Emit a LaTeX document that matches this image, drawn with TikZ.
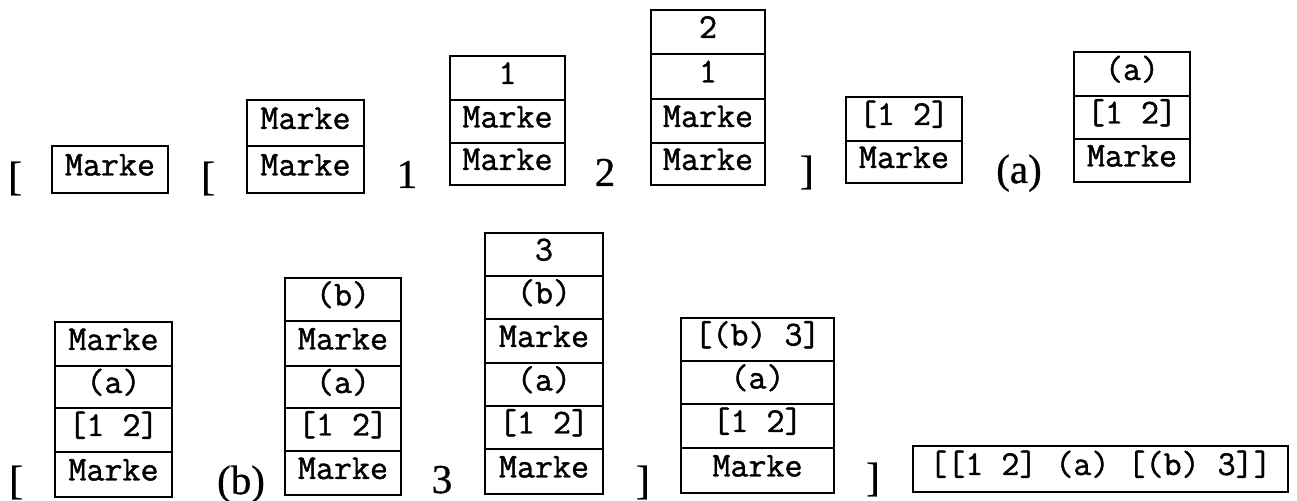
\documentclass[tikz,border=0pt]{standalone}
\usepackage{fontspec}
\newfontfamily\seriff{Liberation Serif}[FakeBold=0.8]
\newfontfamily\monof{Latin Modern Mono}[FakeBold=1.2]
\tikzset{
  cellbox/.style={draw, line width=1.1pt, inner sep=0pt, align=center,
    font=\monof\fontsize{17.5}{20}\selectfont, text height=0.6em, text depth=0pt},
  lbl/.style={inner sep=0pt, anchor=base, font=\seriff\fontsize{20.5}{24}\selectfont}
}
\newcommand\mkcell[5]{\node[cellbox, minimum width=#3, minimum height=#4] (#1) at (#2) {#5};}
\begin{document}
\begin{tikzpicture}[x=0.5pt, y=-0.5pt]
\useasboundingbox (0,0) rectangle (1297,501);
% ---- top row ----
\node[lbl] (t1) at (15,190) {[};
\mkcell{a1}{110,169.5}{58pt}{23.5pt}{Marke}
\node[lbl] (t2) at (208,190) {[};
\mkcell{b1}{305.5,123}{58.5pt}{23pt}{Marke}
\mkcell{b2}{305.5,169.5}{58.5pt}{23.5pt}{Marke}
\node[lbl] (t3) at (407,188) {1};
\mkcell{c1}{507.5,78}{57.5pt}{22pt}{1}
\mkcell{c2}{507.5,121.5}{57.5pt}{21.5pt}{Marke}
\mkcell{c3}{507.5,164}{57.5pt}{21pt}{Marke}
\node[lbl] (t4) at (605,186) {2};
\mkcell{d1}{708,32}{57pt}{22pt}{2}
\mkcell{d2}{708,76.5}{57pt}{22.5pt}{1}
\mkcell{d3}{708,121}{57pt}{22pt}{Marke}
\mkcell{d4}{708,164}{57pt}{21pt}{Marke}
\node[lbl] (t5) at (807,184) {]};
\mkcell{e1}{904,119}{58pt}{22pt}{[1 2]}
\mkcell{e2}{904,162}{58pt}{21pt}{Marke}
\node[lbl] (t6) at (1019,183) {(a)};
\mkcell{f1}{1132,74}{58pt}{22pt}{(a)}
\mkcell{f2}{1132,117.5}{58pt}{21.5pt}{[1 2]}
\mkcell{f3}{1132,160.5}{58pt}{21.5pt}{Marke}
% ---- bottom row ----
\node[lbl] (u1) at (16,494) {[};
\mkcell{g1}{113.5,344}{58.5pt}{22pt}{Marke}
\mkcell{g2}{113.5,387}{58.5pt}{21pt}{(a)}
\mkcell{g3}{113.5,430}{58.5pt}{22pt}{[1 2]}
\mkcell{g4}{113.5,474.5}{58.5pt}{22.5pt}{Marke}
\node[lbl] (u2) at (241,494) {(b)};
\mkcell{h1}{343,299.5}{58pt}{21.5pt}{(b)}
\mkcell{h2}{343,343.5}{58pt}{22.5pt}{Marke}
\mkcell{h3}{343,387}{58pt}{21pt}{(a)}
\mkcell{h4}{343,429.5}{58pt}{21.5pt}{[1 2]}
\mkcell{h5}{343,473}{58pt}{22pt}{Marke}
\node[lbl] (u3) at (442,493) {3};
\mkcell{i1}{544,254.5}{59pt}{21.5pt}{3}
\mkcell{i2}{544,297.5}{59pt}{21.5pt}{(b)}
\mkcell{i3}{544,341}{59pt}{22pt}{Marke}
\mkcell{i4}{544,384.5}{59pt}{21.5pt}{(a)}
\mkcell{i5}{544,427.5}{59pt}{21.5pt}{[1 2]}
\mkcell{i6}{544,471.5}{59pt}{22.5pt}{Marke}
\node[lbl] (u4) at (643,494) {]};
\mkcell{j1}{757.5,339.5}{76.5pt}{21.5pt}{[(b) 3]}
\mkcell{j2}{757.5,382.5}{76.5pt}{21.5pt}{(a)}
\mkcell{j3}{757.5,426}{76.5pt}{22pt}{[1 2]}
\mkcell{j4}{757.5,470.5}{76.5pt}{22.5pt}{Marke}
\node[lbl] (u5) at (873,491) {]};
\mkcell{k1}{1100.5,469}{187.5pt}{23pt}{[[1 2] (a) [(b) 3]]}
\end{tikzpicture}
\end{document}
